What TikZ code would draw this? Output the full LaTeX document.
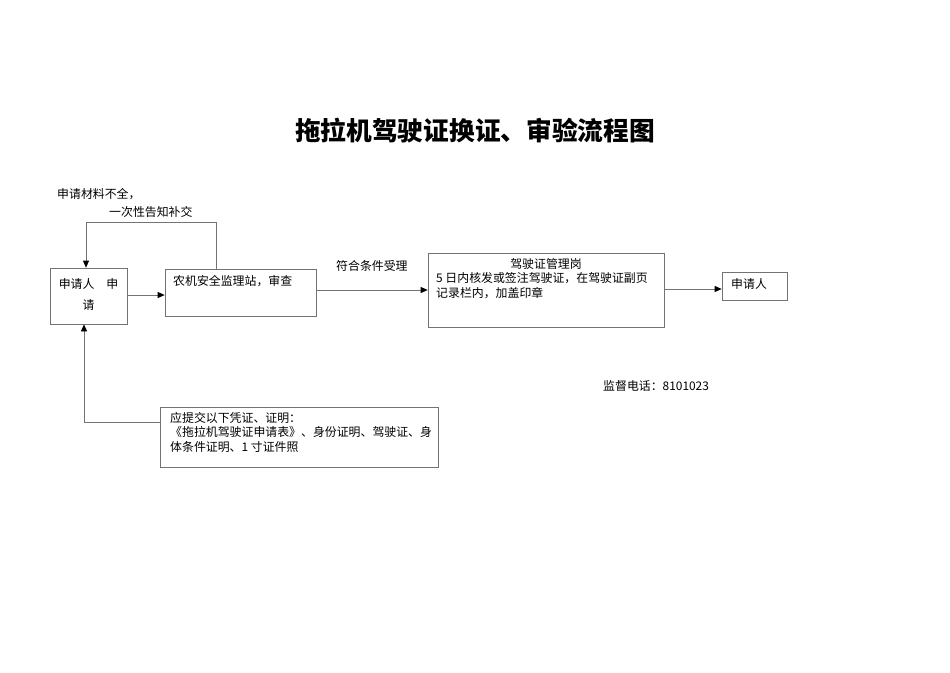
\documentclass[tikz,border=0pt]{standalone}
\usepackage{fontspec}
\setmainfont{Noto Sans CJK SC}
\usetikzlibrary{arrows.meta}
\tikzset{
  box/.style={draw=black!55, line width=0.7pt, inner sep=0pt},
  conn/.style={draw=black!55, line width=0.7pt},
  arr/.style={conn, -{Triangle[length=7pt,width=6pt,fill=black,color=black]}},
  txt/.style={inner sep=0pt, font=\fontsize{11.9}{15}\selectfont, anchor=west},
}
\begin{document}
\begin{tikzpicture}[x=1pt,y=-1pt]
\useasboundingbox (0,0) rectangle (950,672);
\node (title) at (475,131) {\fontsize{25.7}{30}\selectfont\bfseries 拖拉机驾驶证换证、审验流程图};
% boxes
\node (a) [box, minimum width=77pt, minimum height=56pt] at (88.5,296) {};
\node[txt, anchor=center] (a1) at (88.5,284) {申请人\quad 申};
\node[txt, anchor=center] (a2) at (88.5,305) {请};
\node (b) [box, minimum width=151pt, minimum height=47pt] at (240.5,292.5) {};
\node[txt] (b1) at (173,281) {农机安全监理站，审查};
\node (c) [box, minimum width=236pt, minimum height=74pt] at (546,290) {};
\node[txt, anchor=center] (c0) at (546,264) {驾驶证管理岗};
\node[txt] (c1) at (436,278) {5 日内核发或签注驾驶证，在驾驶证副页};
\node[txt] (c2) at (436,293) {记录栏内，加盖印章};
\node (d) [box, minimum width=65pt, minimum height=28pt] at (754.5,286) {};
\node[txt] (d1) at (731,284) {申请人};
\node (e) [box, minimum width=278pt, minimum height=60pt] at (299,437) {};
\node[txt] (e1) at (170,418) {应提交以下凭证、证明：};
\node[txt] (e2) at (170,432) {《拖拉机驾驶证申请表》、身份证明、驾驶证、身};
\node[txt] (e3) at (170,447) {体条件证明、1 寸证件照};
\node[txt] (t1) at (57,194) {申请材料不全，};
\node[txt] (t2) at (109,212) {一次性告知补交};
\node[txt] (t3) at (336,266) {符合条件受理};
\node[txt] (t4) at (603,386) {监督电话：8101023};
% connectors
\draw[arr] (a.east |- 0,295) -- (b.west |- 0,295);
\draw[arr] (b.east |- 0,290) -- (c.west |- 0,290);
\draw[arr] (c.east |- 0,289) -- (d.west |- 0,289);
\draw[arr] (b.north -| 216,0) -- (216,222) -- (86,222) -- (a.north -| 86,0);
\draw[arr] (e.west |- 0,422) -- (84,422) -- (a.south -| 84,0);
\end{tikzpicture}
\end{document}
